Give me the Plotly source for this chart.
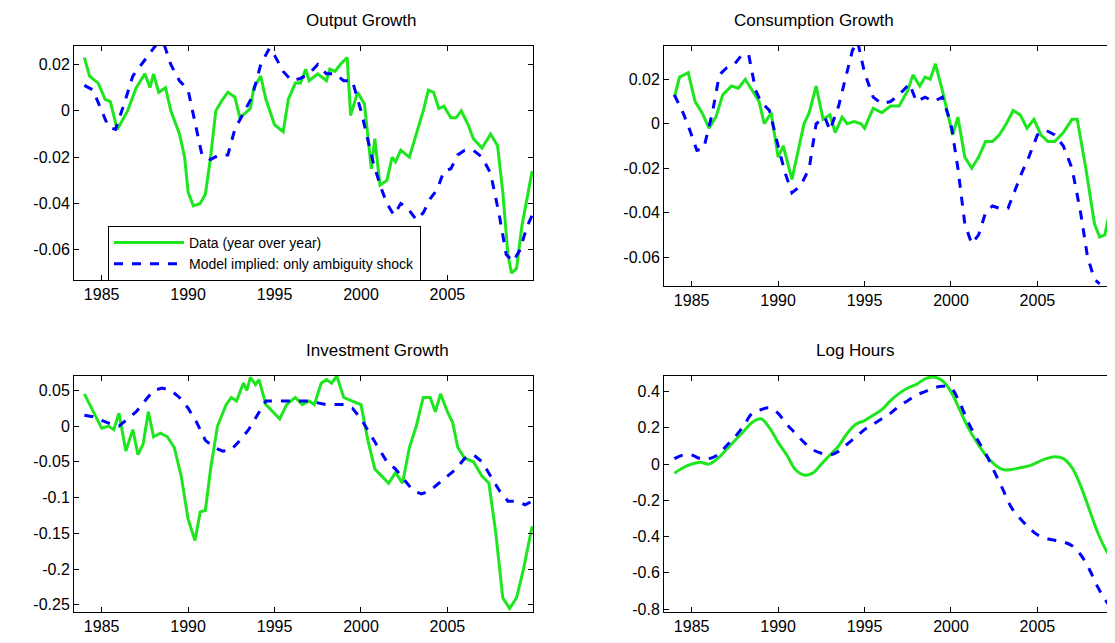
import plotly.graph_objects as go

out_x = [1984.0,1984.3,1984.8,1985.2,1985.5,1985.9,1986.5,1987,1987.5,1987.8,1988,1988.3,1988.7,1989,1989.5,1989.8,1990,1990.3,1990.7,1991,1991.3,1991.6,1992,1992.3,1992.7,1993,1993.3,1993.6,1993.8,1994.2,1994.5,1995,1995.5,1995.8,1996.2,1996.5,1996.8,1997,1997.5,1998,1998.2,1998.5,1998.8,1999.2,1999.4,1999.8,2000.2,2000.6,2000.8,2001.1,2001.5,2001.8,2002,2002.3,2002.8,2003.2,2003.6,2003.9,2004.2,2004.5,2004.8,2005.2,2005.5,2005.8,2006.2,2006.5,2007,2007.5,2007.9,2008.2,2008.5,2008.7,2009,2009.3,2009.6,2009.9]
out_d = [0.023,0.015,0.012,0.005,0.004,-0.008,0,0.01,0.016,0.01,0.016,0.008,0.01,0.0,-0.01,-0.02,-0.035,-0.041,-0.04,-0.036,-0.02,0,0.005,0.008,0.006,-0.003,-0.001,0.001,0.01,0.015,0.005,-0.006,-0.009,0.005,0.012,0.012,0.018,0.013,0.016,0.013,0.018,0.017,0.02,0.023,-0.002,0.008,0.003,-0.025,-0.012,-0.032,-0.03,-0.02,-0.022,-0.017,-0.02,-0.01,0.0,0.009,0.008,0.001,0.002,-0.003,-0.003,0,-0.006,-0.012,-0.016,-0.01,-0.015,-0.035,-0.062,-0.070,-0.068,-0.05,-0.038,-0.026]
out_mx = [1984,1984.5,1985,1985.4,1985.8,1986.3,1986.8,1987.3,1987.8,1988.2,1988.6,1989,1989.5,1990,1990.4,1990.8,1991.3,1991.8,1992.3,1992.7,1993.2,1993.7,1994.2,1994.7,1995,1995.5,1996,1996.5,1997,1997.5,1998,1998.5,1999,1999.5,2000,2000.3,2000.7,2001.1,2001.5,2001.9,2002.3,2002.7,2003.2,2003.6,2004,2004.4,2004.8,2005.2,2005.6,2006,2006.5,2007,2007.5,2008,2008.4,2008.8,2009.2,2009.6,2009.9]
out_m = [0.011,0.009,0.0,-0.007,-0.008,0.003,0.015,0.02,0.025,0.029,0.029,0.02,0.013,0.009,-0.005,-0.019,-0.021,-0.019,-0.019,-0.008,-0.001,0.006,0.02,0.027,0.024,0.017,0.013,0.014,0.016,0.02,0.016,0.016,0.013,0.013,0.0,-0.01,-0.022,-0.032,-0.040,-0.045,-0.040,-0.042,-0.047,-0.044,-0.038,-0.034,-0.026,-0.025,-0.019,-0.017,-0.017,-0.02,-0.027,-0.045,-0.062,-0.065,-0.06,-0.05,-0.045]

con_x = [1984,1984.3,1984.8,1985.2,1985.6,1986,1986.4,1986.8,1987.3,1987.7,1988.1,1988.5,1988.9,1989.2,1989.6,1990,1990.3,1990.8,1991.2,1991.5,1991.8,1992.2,1992.6,1993,1993.3,1993.7,1994,1994.4,1994.8,1995,1995.5,1996,1996.5,1997,1997.5,1997.8,1998.2,1998.5,1998.8,1999.1,1999.5,1999.8,2000.1,2000.4,2000.8,2001.2,2001.6,2002,2002.4,2002.8,2003.2,2003.6,2004,2004.4,2004.8,2005.2,2005.6,2006,2006.5,2007,2007.3,2007.8,2008.3,2008.6,2008.9,2009.3,2009.7,2010]
con_d = [0.012,0.021,0.023,0.01,0.005,-0.002,0.003,0.013,0.017,0.016,0.02,0.015,0.01,0.0,0.005,-0.015,-0.01,-0.025,-0.01,0.0,0.005,0.017,0.002,0.004,-0.004,0.003,0.0,0.001,0.0,-0.002,0.007,0.005,0.008,0.008,0.015,0.022,0.017,0.021,0.02,0.027,0.015,0.005,-0.005,0.003,-0.015,-0.02,-0.015,-0.008,-0.008,-0.005,0.0,0.006,0.004,-0.002,0.002,-0.005,-0.008,-0.008,-0.004,0.002,0.002,-0.02,-0.045,-0.051,-0.05,-0.035,-0.02,-0.015]
con_mx = [1984,1984.5,1984.9,1985.3,1985.7,1986.2,1986.6,1987,1987.5,1987.9,1988.3,1988.7,1989,1989.5,1990,1990.4,1990.8,1991.3,1991.8,1992.2,1992.7,1993,1993.5,1993.9,1994.3,1994.6,1995,1995.5,1996,1996.5,1997,1997.6,1998,1998.5,1999,1999.5,2000,2000.4,2000.8,2001.2,2001.6,2002,2002.4,2002.8,2003.3,2003.7,2004.1,2004.5,2005,2005.5,2006,2006.5,2007,2007.5,2007.9,2008.3,2008.6]
con_m = [0.013,0.005,-0.003,-0.012,-0.011,0.005,0.022,0.025,0.027,0.031,0.031,0.015,0.01,0.006,-0.01,-0.022,-0.031,-0.028,-0.02,0.0,0.003,-0.003,0.008,0.02,0.033,0.037,0.023,0.012,0.009,0.01,0.013,0.018,0.01,0.012,0.01,0.012,0.0,-0.02,-0.045,-0.054,-0.05,-0.04,-0.037,-0.038,-0.038,-0.03,-0.022,-0.015,-0.005,-0.003,-0.005,-0.01,-0.02,-0.04,-0.06,-0.07,-0.072]

inv_x = [1984,1984.5,1985,1985.4,1985.7,1986,1986.4,1986.8,1987.1,1987.4,1987.7,1988,1988.4,1988.8,1989.2,1989.6,1990,1990.4,1990.7,1991,1991.3,1991.7,1992.2,1992.5,1992.8,1993.2,1993.4,1993.6,1993.9,1994.1,1994.5,1994.9,1995.3,1995.7,1996.2,1996.6,1997,1997.3,1997.7,1998,1998.3,1998.6,1999,1999.5,2000,2000.4,2000.8,2001.2,2001.6,2002,2002.4,2002.8,2003.2,2003.6,2004,2004.3,2004.6,2005,2005.3,2005.6,2006,2006.5,2007,2007.4,2007.8,2008.2,2008.6,2009,2009.4,2009.9]
inv_d = [0.045,0.02,-0.003,0.0,-0.005,0.018,-0.035,-0.005,-0.04,-0.025,0.02,-0.015,-0.01,-0.015,-0.03,-0.07,-0.13,-0.16,-0.12,-0.118,-0.06,0.0,0.03,0.04,0.035,0.06,0.05,0.068,0.058,0.065,0.03,0.02,0.01,0.03,0.04,0.03,0.035,0.03,0.06,0.065,0.06,0.07,0.04,0.035,0.03,-0.02,-0.06,-0.07,-0.08,-0.065,-0.08,-0.03,0.0,0.04,0.04,0.02,0.045,0.02,0.005,-0.03,-0.045,-0.05,-0.07,-0.08,-0.15,-0.24,-0.255,-0.24,-0.2,-0.14]
inv_mx = [1984,1984.5,1985,1985.5,1986,1986.5,1987,1987.5,1988,1988.5,1989,1989.5,1990,1990.5,1991,1991.5,1992,1992.5,1993,1993.5,1994,1994.5,1995,1996,1997,1998,1999,1999.5,2000,2000.5,2001,2001.5,2002,2002.5,2003,2003.5,2004,2004.5,2005,2005.5,2006,2006.5,2007,2007.5,2008,2008.5,2009,2009.5,2009.9]
inv_m = [0.015,0.013,0.008,0.003,0.0,0.01,0.02,0.035,0.05,0.053,0.05,0.04,0.025,0.005,-0.02,-0.03,-0.035,-0.033,-0.02,-0.005,0.015,0.035,0.035,0.035,0.035,0.03,0.03,0.025,0.01,-0.01,-0.03,-0.05,-0.06,-0.075,-0.09,-0.095,-0.09,-0.08,-0.07,-0.06,-0.045,-0.04,-0.05,-0.07,-0.09,-0.105,-0.105,-0.11,-0.105]

hrs_x = [1984,1984.5,1985,1985.5,1986,1986.5,1987,1987.5,1988,1988.5,1989,1989.5,1990,1990.5,1991,1991.5,1992,1992.5,1993,1993.5,1994,1994.5,1995,1995.5,1996,1996.5,1997,1997.5,1998,1998.5,1999,1999.5,2000,2000.5,2001,2001.5,2002,2002.5,2003,2003.5,2004,2004.5,2005,2005.5,2006,2006.5,2007,2007.5,2008,2008.5,2009,2009.5,2009.9]
hrs_d = [-0.05,-0.02,0.0,0.01,0.0,0.03,0.08,0.13,0.18,0.23,0.25,0.2,0.12,0.05,-0.03,-0.06,-0.05,0.0,0.05,0.1,0.17,0.22,0.24,0.27,0.3,0.35,0.39,0.42,0.44,0.47,0.48,0.46,0.4,0.3,0.2,0.12,0.05,0.0,-0.03,-0.03,-0.02,-0.01,0.01,0.03,0.04,0.03,-0.02,-0.12,-0.25,-0.38,-0.48,-0.55,-0.6]
hrs_m = [0.03,0.05,0.05,0.03,0.03,0.05,0.1,0.15,0.21,0.28,0.3,0.31,0.28,0.22,0.17,0.12,0.08,0.06,0.05,0.07,0.11,0.15,0.19,0.22,0.25,0.28,0.32,0.35,0.38,0.4,0.42,0.43,0.42,0.34,0.23,0.14,0.06,-0.04,-0.14,-0.24,-0.3,-0.35,-0.39,-0.41,-0.42,-0.43,-0.45,-0.5,-0.58,-0.68,-0.76,-0.81,-0.85]

titles = ["Output Growth", "Consumption Growth", "Investment Growth", "Log Hours"]
legend_names = ["Data (year over year)", "Model implied: only ambiguity shock"]
xticks = [1985, 1990, 1995, 2000, 2005]

GREEN = "#1ee61e"
BLUE = "#0000ff"
FONT = "Liberation Sans, Arial"
fig = go.Figure()
panels = [
    (out_x, out_d, out_mx, out_m, "linear"),
    (con_x, con_d, con_mx, con_m, "linear"),
    (inv_x, inv_d, inv_mx, inv_m, "linear"),
    (hrs_x, hrs_d, hrs_x, hrs_m, "spline"),
]
for i, (xd, yd_, xm, ym, sh) in enumerate(panels):
    ax = "" if i == 0 else str(i + 1)
    fig.add_trace(go.Scatter(x=xd, y=yd_, mode="lines", line=dict(color=GREEN, width=3, shape=sh),
                             name=legend_names[0], showlegend=(i == 0), xaxis="x" + ax, yaxis="y" + ax))
    fig.add_trace(go.Scatter(x=xm, y=ym, mode="lines", line=dict(color=BLUE, width=3, dash="dash", shape=sh),
                             name=legend_names[1], showlegend=(i == 0), xaxis="x" + ax, yaxis="y" + ax))

H = 643
def yd(top, bot):
    return [1 - bot / H, 1 - top / H]

ax_common = dict(showline=True, linecolor="black", linewidth=1, mirror="ticks", ticks="inside",
                 ticklen=5, tickcolor="black", showgrid=False, zeroline=False, automargin=False,
                 tickfont=dict(family=FONT, size=16, color="black"))
xr = [1983.4, 2009.95]
yspecs = [
    ([-0.073, 0.028], [-0.06, -0.04, -0.02, 0, 0.02], ["-0.06", "-0.04", "-0.02", "0", "0.02"], yd(38, 272)),
    ([-0.073, 0.035], [-0.06, -0.04, -0.02, 0, 0.02], ["-0.06", "-0.04", "-0.02", "0", "0.02"], yd(38, 278)),
    ([-0.26, 0.07], [-0.25, -0.2, -0.15, -0.1, -0.05, 0, 0.05], ["-0.25", "-0.2", "-0.15", "-0.1", "-0.05", "0", "0.05"], yd(368, 604)),
    ([-0.816, 0.486], [-0.8, -0.6, -0.4, -0.2, 0, 0.2, 0.4], ["-0.8", "-0.6", "-0.4", "-0.2", "0", "0.2", "0.4"], yd(368, 604)),
]
xdoms = [[66 / 1115, 525 / 1115], [656 / 1115, 1.0], [66 / 1115, 525 / 1115], [656 / 1115, 1.0]]
lay = {}
for i in range(4):
    k = "" if i == 0 else str(i + 1)
    yr, tv, tt, dom = yspecs[i]
    lay["xaxis" + k] = dict(ax_common, domain=xdoms[i], range=xr, tickvals=xticks, anchor="y" + k)
    lay["yaxis" + k] = dict(ax_common, domain=dom, range=yr, tickvals=tv, ticktext=tt, anchor="x" + k)
    xc = (xdoms[i][0] + xdoms[i][1]) / 2 if i % 2 == 0 else (660 + 455 / 2) / 1115
    fig.add_annotation(text=titles[i], x=xc, y=dom[1], xref="paper", yref="paper", yanchor="bottom",
                       yshift=14, showarrow=False, font=dict(family=FONT, size=17, color="black"))
fig.update_layout(**lay)
fig.update_layout(width=1115, height=643, margin=dict(l=0, r=0, t=0, b=0),
                  plot_bgcolor="white", paper_bgcolor="white",
                  legend=dict(x=100 / 1115, y=1 - 218 / H, xanchor="left", yanchor="top",
                              bgcolor="white", bordercolor="black", borderwidth=1,
                              font=dict(family=FONT, size=14, color="black"),
                              tracegroupgap=0, itemwidth=70))
fig.write_html("out.html")
